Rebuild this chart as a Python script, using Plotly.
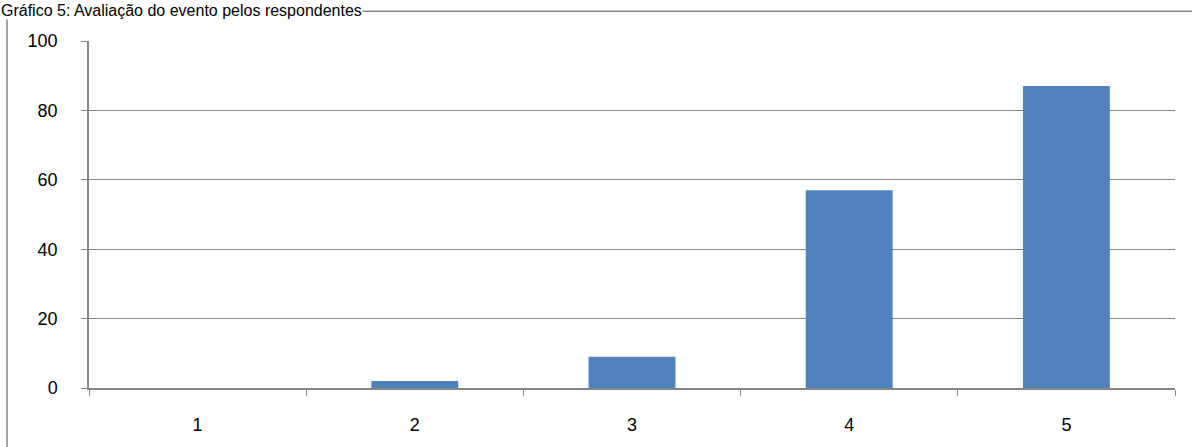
import plotly.graph_objects as go

categories = ["1", "2", "3", "4", "5"]
values = [0, 2, 9, 57, 87]
y_ticks = [0, 20, 40, 60, 80, 100]
title_text = "Gráfico 5: Avaliação do evento pelos respondentes"

W, H = 1192, 447
L, R, T, B = 89, 17, 41, 55
pw, ph = W - L - R, H - T - B

fig = go.Figure(go.Bar(x=categories, y=values, marker=dict(color="#4F81BD", line=dict(width=0)), width=0.4))

fig.update_layout(
    width=W, height=H,
    margin=dict(l=L, r=R, t=T, b=B, pad=0),
    paper_bgcolor="white", plot_bgcolor="white",
    font=dict(family="Liberation Sans, Arial, sans-serif", size=18, color="#000000"),
    showlegend=False,
    bargap=0.6,
)
fig.update_xaxes(
    type="category", showgrid=False, showline=True, linecolor="#868686", linewidth=1.5,
    ticks="outside", ticklen=6, tickcolor="#868686", tickson="boundaries",
    tickfont=dict(size=18), ticklabelstandoff=20,
)
fig.update_yaxes(
    range=[0, 100], tickvals=y_ticks, showgrid=True, gridcolor="#868686", gridwidth=1.2,
    showline=True, linecolor="#868686", linewidth=1.5, zeroline=False,
    ticks="outside", ticklen=6, tickcolor="#868686", tickfont=dict(size=18),
    ticklabelstandoff=20,
)

# outer chart frame (partly outside the visible page)
fig.add_shape(type="rect", xref="paper", yref="paper",
              x0=(7 - L) / pw, x1=(W + 20 - L) / pw,
              y0=-(B + 20) / ph, y1=(H - B - 11) / ph,
              line=dict(color="#868686", width=1.5), fillcolor="rgba(0,0,0,0)", layer="below")

fig.add_annotation(text=title_text, xref="paper", yref="paper",
                   x=(0 - L) / pw, y=(H - B - 1) / ph, xanchor="left", yanchor="top",
                   showarrow=False, bgcolor="white", borderpad=0,
                   font=dict(size=16, family="Liberation Sans, Arial, sans-serif"))

fig.write_html("out.html")
